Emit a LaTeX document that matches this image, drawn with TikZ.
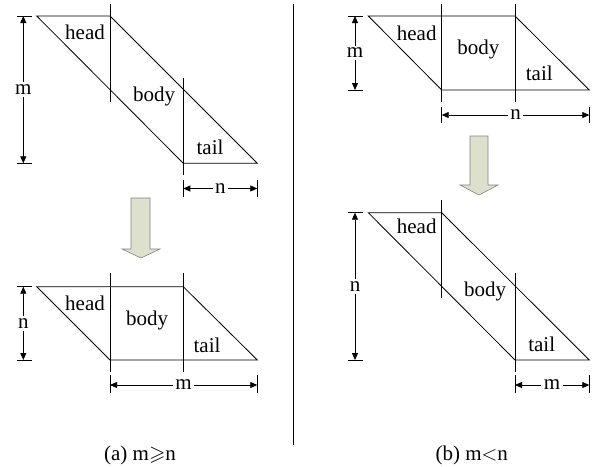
\documentclass[tikz,border=0pt]{standalone}
\usepackage{amssymb}
\usepackage{fontspec}
\setmainfont{Liberation Serif}
\usetikzlibrary{arrows.meta}

\definecolor{arrowfill}{RGB}{221,225,204}
\definecolor{arrowedge}{RGB}{130,130,130}

\begin{document}
\begin{tikzpicture}[x=1pt, y=-1pt,
    part/.style={line width=0.8pt, line join=miter},
    guide/.style={line width=0.8pt},
    dim/.style={line width=0.8pt, {Triangle[length=7pt,width=6pt]}-{Triangle[length=7pt,width=6pt]}},
    lbl/.style={font=\fontsize{21}{24}\selectfont, inner sep=1pt},
    dimlbl/.style={lbl, fill=white, inner sep=2.5pt},
    fat/.style={draw=arrowedge, fill=arrowfill, line width=0.6pt}]

    \useasboundingbox (0,0) rectangle (599,466);

    % (a) top: m >= n, before
    \coordinate (at1) at (36.7,16);
    \coordinate (at2) at (110,16);
    \coordinate (at3) at (257.3,163.3);
    \coordinate (at4) at (183.3,163.3);
    \draw[part] (at1) -- (at2) -- (at3) -- (at4) -- cycle;
    \draw[guide] (110,4) -- (110,102);
    \draw[guide] (183.3,78) -- (183.3,175);
    \node[lbl] (ahead1) at (85,32) {head};
    \node[lbl] (abody1) at (154,96) {body};
    \node[lbl] (atail1) at (210,147) {tail};
    \draw[guide] (17,16) -- (32,16) (17,163.3) -- (32,163.3);
    \draw[dim] (23.3,16) -- node[dimlbl] (am1) {m} (23.3,163.3);
    \draw[guide] (183.3,180) -- (183.3,197) (257.3,180) -- (257.3,197);
    \draw[dim] (183.3,188.5) -- node[dimlbl] (an1) {n} (257.3,188.5);

    \draw[fat] (131,198) -- (150,198) -- (150,249) -- (160,249) -- (141,258)
        -- (122,249) -- (131,249) -- cycle;

    % (a) bottom: after
    \coordinate (ab1) at (36.7,286.7);
    \coordinate (ab2) at (183.3,286.7);
    \coordinate (ab3) at (257.3,360);
    \coordinate (ab4) at (110,360);
    \draw[part] (ab1) -- (ab2) -- (ab3) -- (ab4) -- cycle;
    \draw[guide] (110,273) -- (110,372);
    \draw[guide] (183.3,273) -- (183.3,372);
    \node[lbl] (ahead2) at (85,303) {head};
    \node[lbl] (abody2) at (147,320) {body};
    \node[lbl] (atail2) at (207,345) {tail};
    \draw[guide] (17,286.7) -- (32,286.7) (17,360) -- (32,360);
    \draw[dim] (23.3,286.7) -- node[dimlbl] (an2) {n} (23.3,360);
    \draw[guide] (110,375) -- (110,393) (257.3,375) -- (257.3,393);
    \draw[dim] (110,385) -- node[dimlbl] (am2) {m} (257.3,385);

    \node[lbl] (capa) at (140,455) {(a) m$\geqslant$n};

    % divider
    \draw[guide] (293.3,4) -- (293.3,445);

    % (b) top: m < n, before
    \coordinate (bt1) at (368.3,16);
    \coordinate (bt2) at (515,16);
    \coordinate (bt3) at (589.3,90);
    \coordinate (bt4) at (441.7,90);
    \draw[part] (bt1) -- (bt2) -- (bt3) -- (bt4) -- cycle;
    \draw[guide] (441.7,4) -- (441.7,102);
    \draw[guide] (515,4) -- (515,102);
    \node[lbl] (bhead1) at (416.7,33) {head};
    \node[lbl] (bbody1) at (478.3,49) {body};
    \node[lbl] (btail1) at (539.3,73) {tail};
    \draw[guide] (348,16) -- (363,16) (348,90) -- (363,90);
    \draw[dim] (355,16) -- node[dimlbl] (bm1) {m} (355,90);
    \draw[guide] (441.7,107) -- (441.7,123) (589.3,107) -- (589.3,123);
    \draw[dim] (441.7,115) -- node[dimlbl] (bn1) {n} (589.3,115);

    \draw[fat] (470,136) -- (488,136) -- (488,185) -- (498,185) -- (479,195)
        -- (460,185) -- (470,185) -- cycle;

    % (b) bottom: after
    \coordinate (bb1) at (368.3,212.7);
    \coordinate (bb2) at (441.7,212.7);
    \coordinate (bb3) at (589.3,360);
    \coordinate (bb4) at (515,360);
    \draw[part] (bb1) -- (bb2) -- (bb3) -- (bb4) -- cycle;
    \draw[guide] (441.7,200) -- (441.7,298);
    \draw[guide] (515,273) -- (515,372);
    \node[lbl] (bhead2) at (416.7,226.7) {head};
    \node[lbl] (bbody2) at (485,291.7) {body};
    \node[lbl] (btail2) at (541.7,344) {tail};
    \draw[guide] (348,212.7) -- (363,212.7) (348,360) -- (363,360);
    \draw[dim] (355,212.7) -- node[dimlbl] (bn2) {n} (355,360);
    \draw[guide] (515,375) -- (515,393) (589.3,375) -- (589.3,393);
    \draw[dim] (515,385) -- node[dimlbl] (bm2) {m} (589.3,385);

    \node[lbl] (capb) at (471.7,455) {(b) m$<$n};
\end{tikzpicture}
\end{document}
